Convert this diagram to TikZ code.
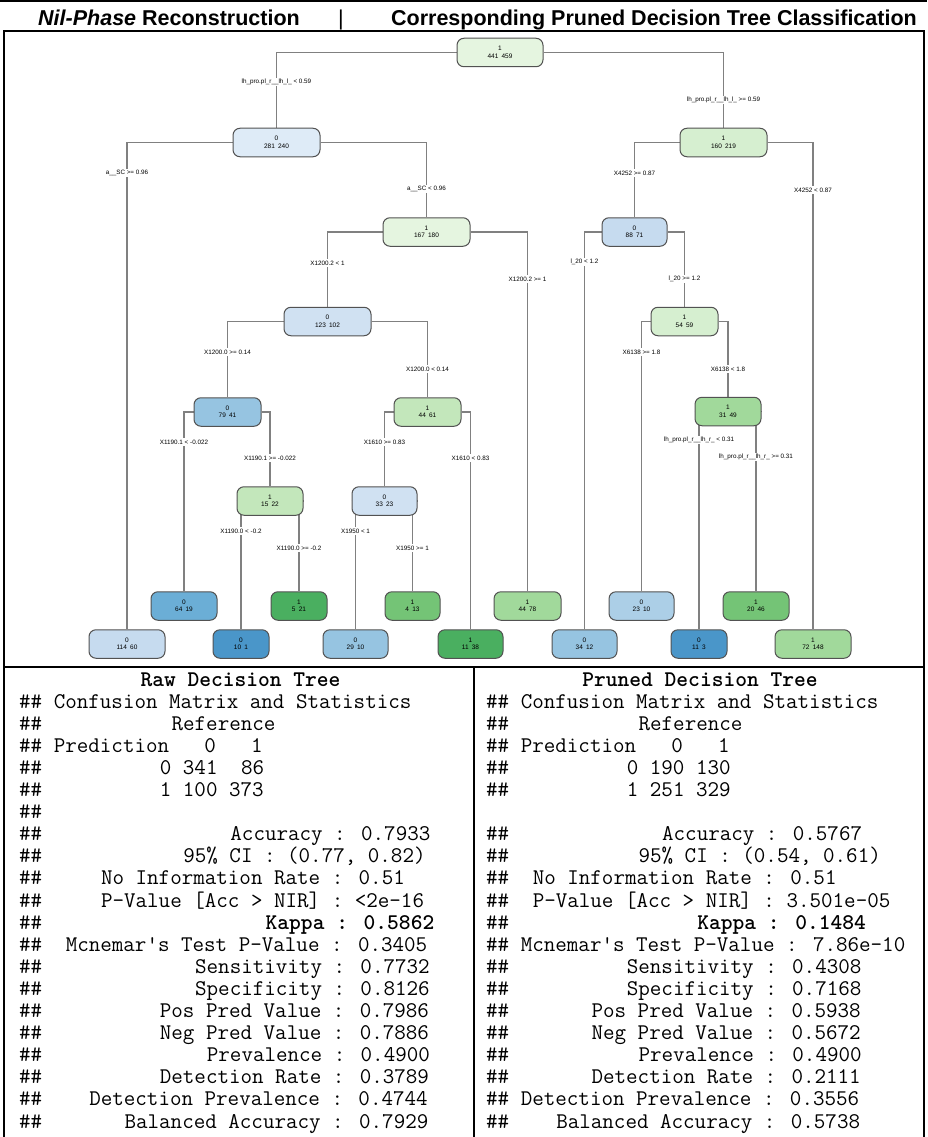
\documentclass[tikz,border=0pt]{standalone}
\usepackage{fontspec}
\setmainfont{Liberation Sans}
\usetikzlibrary{backgrounds}

% box fills: blue for class 0, green for class 1
\definecolor{bu1}{RGB}{222,235,247}
\definecolor{bu2}{RGB}{208,225,242}
\definecolor{bu3}{RGB}{198,219,239}
\definecolor{bu4}{RGB}{172,207,231}
\definecolor{bu5}{RGB}{150,196,225}
\definecolor{bu6}{RGB}{107,174,214}
\definecolor{bu7}{RGB}{74,150,201}
\definecolor{gn1}{RGB}{229,245,224}
\definecolor{gn2}{RGB}{214,239,208}
\definecolor{gn3}{RGB}{195,231,187}
\definecolor{gn4}{RGB}{161,217,155}
\definecolor{gn5}{RGB}{116,196,118}
\definecolor{gn6}{RGB}{74,175,96}

% blank columns in the monospaced print-out
\newcommand\pad[1]{\hspace*{#1\dimexpr0.525em\relax}}

\tikzset{
  box/.style={draw=black!68, line width=1pt, rounded corners=7pt, minimum width=#1,
    minimum height=28.5pt, inner sep=0pt, align=center, font=\fontsize{6.5}{7.5}\selectfont},
  box/.default=66pt,
  split/.style={fill=white, inner sep=1.5pt, font=\fontsize{6.3}{7}\selectfont},
  link/.style={draw=black!50, line width=1.1pt},
  rule/.style={line width=1.3pt},
  code/.style={anchor=base west, inner sep=0pt, font=\ttfamily\fontsize{22.4}{22}\selectfont},
  title/.style={anchor=base, inner sep=0pt, font=\ttfamily\bfseries\fontsize{22.4}{22}\selectfont},
  head/.style={anchor=base west, inner sep=0pt, font=\bfseries\fontsize{21.5}{24}\selectfont},
}

\begin{document}
\begin{tikzpicture}[x=1pt, y=-1pt]
  \useasboundingbox (0,0) rectangle (927,1137);

  % heading
  \node[head] (lefthead) at (38,25.5) {\textit{Nil-Phase} Reconstruction};
  \node[head, anchor=base, font=\fontsize{21.5}{24}\selectfont] (bar) at (341,25.5) {|};
  \node[head, anchor=base east] (righthead) at (917,25.5) {Corresponding Pruned Decision Tree Classification};

  % frame
  \draw[rule] (0,1) -- (927,1);
  \draw[rule] (4,1137) -- (4,31) -- (924,31) -- (924,1137);
  \draw[rule] (4,667) -- (924,667);
  \draw[rule] (474,667) -- (474,1137);

  % tree, numbered as rpart numbers its nodes
  \node[box=86pt, fill=gn1] (n1) at (500,52.5) {1\\441\enspace459};
  \node[box=87pt, fill=bu1] (n2) at (276.5,142.5) {0\\281\enspace240};
  \node[box=87pt, fill=gn2] (n3) at (723.5,142.5) {1\\160\enspace219};
  \node[box=76pt, fill=bu3] (n4) at (127,644) {0\\114\enspace60};
  \node[box=87pt, fill=gn1] (n5) at (426.5,232) {1\\167\enspace180};
  \node[box=65pt, fill=bu3] (n6) at (634.5,232) {0\\88\enspace71};
  \node[box=76pt, fill=gn4] (n7) at (813,644) {1\\72\enspace148};
  \node[box=87pt, fill=bu2] (n10) at (327.5,321.5) {0\\123\enspace102};
  \node[box=67pt, fill=gn4] (n11) at (527.5,606) {1\\44\enspace78};
  \node[box=65pt, fill=bu5] (n12) at (584.5,644) {0\\34\enspace12};
  \node[box=67pt, fill=gn2] (n13) at (684.5,321.5) {1\\54\enspace59};
  \node[box=67pt, fill=bu5] (n20) at (227.5,412) {0\\79\enspace41};
  \node[box=67pt, fill=gn3] (n21) at (427.5,412) {1\\44\enspace61};
  \node[box=65pt, fill=bu4] (n26) at (641.5,606) {0\\23\enspace10};
  \node[box=66pt, fill=gn4] (n27) at (728,411.5) {1\\31\enspace49};
  \node[box=66pt, fill=bu6] (n40) at (184,606) {0\\64\enspace19};
  \node[box=66pt, fill=gn3] (n41) at (270,501) {1\\15\enspace22};
  \node[box=65pt, fill=bu2] (n42) at (384.5,501) {0\\33\enspace23};
  \node[box=65pt, fill=gn6] (n43) at (470.5,644) {1\\11\enspace38};
  \node[box=56pt, fill=bu7] (n54) at (699,644) {0\\11\enspace3};
  \node[box=66pt, fill=gn5] (n55) at (756,606) {1\\20\enspace46};
  \node[box=56pt, fill=bu7] (n82) at (241,644) {0\\10\enspace1};
  \node[box=56pt, fill=gn6] (n83) at (299,606) {1\\5\enspace21};
  \node[box=65pt, fill=bu5] (n84) at (355.5,644) {0\\29\enspace10};
  \node[box=55pt, fill=gn5] (n85) at (412.5,606) {1\\4\enspace13};

  \begin{scope}[on background layer]
    \foreach \p/\c in {n1/n2, n1/n3, n2/n4, n2/n5, n3/n6, n3/n7, n5/n10, n5/n11,
        n6/n12, n6/n13, n10/n20, n10/n21, n13/n26, n13/n27, n20/n40, n20/n41,
        n21/n42, n21/n43, n27/n54, n27/n55, n41/n82, n41/n83, n42/n84, n42/n85}
      \draw[link] (\p) -| (\c);
  \end{scope}

  % split rules
  \node[split] (e2) at (n2 |- 0,82) {lh\_pro.pl\_r\_\_lh\_l\_ < 0.59};
  \node[split] (e3) at (n3 |- 0,100) {lh\_pro.pl\_r\_\_lh\_l\_ >= 0.59};
  \node[split] (e4) at (n4 |- 0,173) {a\_\_SC >= 0.96};
  \node[split] (e5) at (n5 |- 0,189) {a\_\_SC < 0.96};
  \node[split] (e6) at (n6 |- 0,173) {X4252 >= 0.87};
  \node[split] (e7) at (n7 |- 0,190) {X4252 < 0.87};
  \node[split] (e10) at (n10 |- 0,263) {X1200.2 < 1};
  \node[split] (e11) at (n11 |- 0,279) {X1200.2 >= 1};
  \node[split] (e12) at (n12 |- 0,262) {l\_20 < 1.2};
  \node[split] (e13) at (n13 |- 0,279) {l\_20 >= 1.2};
  \node[split] (e20) at (n20 |- 0,352) {X1200.0 >= 0.14};
  \node[split] (e21) at (n21 |- 0,369) {X1200.0 < 0.14};
  \node[split] (e26) at (n26 |- 0,352) {X6138 >= 1.8};
  \node[split] (e27) at (n27 |- 0,369) {X6138 < 1.8};
  \node[split] (e40) at (n40 |- 0,442) {X1190.1 < -0.022};
  \node[split] (e41) at (n41 |- 0,458) {X1190.1 >= -0.022};
  \node[split] (e42) at (n42 |- 0,442) {X1610 >= 0.83};
  \node[split] (e43) at (n43 |- 0,458) {X1610 < 0.83};
  \node[split] (e54) at (n54 |- 0,440) {lh\_pro.pl\_r\_\_lh\_r\_ < 0.31};
  \node[split] (e55) at (n55 |- 0,457) {lh\_pro.pl\_r\_\_lh\_r\_ >= 0.31};
  \node[split] (e82) at (n82 |- 0,531) {X1190.0 < -0.2};
  \node[split] (e83) at (n83 |- 0,548) {X1190.0 >= -0.2};
  \node[split] (e84) at (n84 |- 0,531) {X1950 < 1};
  \node[split] (e85) at (n85 |- 0,548) {X1950 >= 1};

  % confusion matrix print-outs
  \node[title] (rawtitle) at (240.5,686) {Raw Decision Tree};
  \node[title] (prunedtitle) at (700,686) {Pruned Decision Tree};

  \foreach \txt [count=\i] in {
      {\#\# Confusion Matrix and Statistics},
      {\#\#\pad{11}Reference},
      {\#\# Prediction\pad{3}0\pad{3}1},
      {\#\#\pad{10}0 341\pad{2}86},
      {\#\#\pad{10}1 100 373},
      {\#\#},
      {\#\#\pad{16}Accuracy : 0.7933},
      {\#\#\pad{12}95\% CI : (0.77, 0.82)},
      {\#\#\pad{5}No Information Rate : 0.51},
      {\#\#\pad{5}P-Value [Acc > NIR] : <2e-16},
      {\#\#\pad{19}\textbf{Kappa : 0.5862}},
      {\#\#\pad{2}Mcnemar\textquotesingle s Test P-Value : 0.3405},
      {\#\#\pad{13}Sensitivity : 0.7732},
      {\#\#\pad{13}Specificity : 0.8126},
      {\#\#\pad{10}Pos Pred Value : 0.7986},
      {\#\#\pad{10}Neg Pred Value : 0.7886},
      {\#\#\pad{14}Prevalence : 0.4900},
      {\#\#\pad{10}Detection Rate : 0.3789},
      {\#\#\pad{4}Detection Prevalence : 0.4744},
      {\#\#\pad{7}Balanced Accuracy : 0.7929}}
    \node[code] (raw\i) at (19,{686+22.1*\i}) {\txt};

  \foreach \txt [count=\i] in {
      {\#\# Confusion Matrix and Statistics},
      {\#\#\pad{11}Reference},
      {\#\# Prediction\pad{3}0\pad{3}1},
      {\#\#\pad{10}0 190 130},
      {\#\#\pad{10}1 251 329},
      {},
      {\#\#\pad{13}Accuracy : 0.5767},
      {\#\#\pad{11}95\% CI : (0.54, 0.61)},
      {\#\#\pad{2}No Information Rate : 0.51},
      {\#\#\pad{2}P-Value [Acc > NIR] : 3.501e-05},
      {\#\#\pad{16}\textbf{Kappa : 0.1484}},
      {\#\# Mcnemar\textquotesingle s Test P-Value : 7.86e-10},
      {\#\#\pad{10}Sensitivity : 0.4308},
      {\#\#\pad{10}Specificity : 0.7168},
      {\#\#\pad{7}Pos Pred Value : 0.5938},
      {\#\#\pad{7}Neg Pred Value : 0.5672},
      {\#\#\pad{11}Prevalence : 0.4900},
      {\#\#\pad{7}Detection Rate : 0.2111},
      {\#\# Detection Prevalence : 0.3556},
      {\#\#\pad{4}Balanced Accuracy : 0.5738}}
    \node[code] (pruned\i) at (486,{686+22.1*\i}) {\txt};
\end{tikzpicture}
\end{document}
